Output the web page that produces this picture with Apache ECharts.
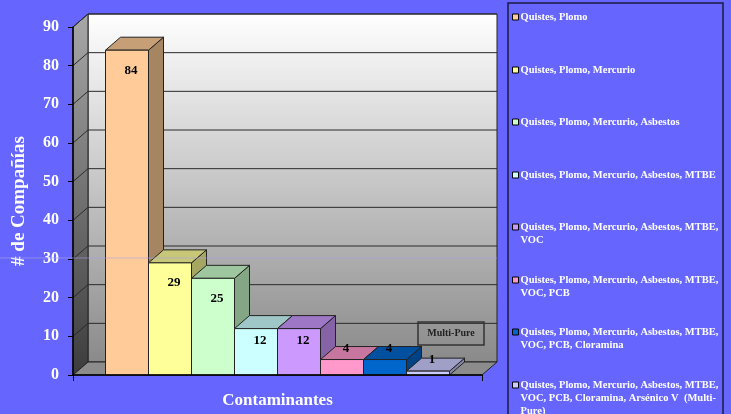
<!DOCTYPE html>
<html>
<head>
<meta charset="utf-8">
<script src="https://cdn.jsdelivr.net/npm/echarts@6/dist/echarts.min.js"></script>
<style>
  html, body { margin: 0; padding: 0; background: #6666FF; }
  #main { width: 731px; height: 414px; }
</style>
</head>
<body>
<div id="main"></div>
<script>
// datos
var seriesNames = [
  'Quistes, Plomo',
  'Quistes, Plomo, Mercurio',
  'Quistes, Plomo, Mercurio, Asbestos',
  'Quistes, Plomo, Mercurio, Asbestos, MTBE',
  'Quistes, Plomo, Mercurio, Asbestos, MTBE, VOC',
  'Quistes, Plomo, Mercurio, Asbestos, MTBE, VOC, PCB',
  'Quistes, Plomo, Mercurio, Asbestos, MTBE, VOC, PCB, Cloramina',
  'Quistes, Plomo, Mercurio, Asbestos, MTBE, VOC, PCB, Cloramina, Arsénico V  (Multi-Pure)'
];
var legendLines = [
  ['Quistes, Plomo'],
  ['Quistes, Plomo, Mercurio'],
  ['Quistes, Plomo, Mercurio, Asbestos'],
  ['Quistes, Plomo, Mercurio, Asbestos, MTBE'],
  ['Quistes, Plomo, Mercurio, Asbestos, MTBE,', 'VOC'],
  ['Quistes, Plomo, Mercurio, Asbestos, MTBE,', 'VOC, PCB'],
  ['Quistes, Plomo, Mercurio, Asbestos, MTBE,', 'VOC, PCB, Cloramina'],
  ['Quistes, Plomo, Mercurio, Asbestos, MTBE,', 'VOC, PCB, Cloramina, Arsénico V  (Multi-', 'Pure)']
];
var values = [84, 29, 25, 12, 12, 4, 4, 1];
var yTicks = [0, 10, 20, 30, 40, 50, 60, 70, 80, 90];
var categories = [''];
var colors = ['#FFCC99', '#FFFF99', '#CCFFCC', '#CCFFFF', '#CC99FF', '#FF99CC', '#0066CC', '#CCCCFF'];

var SERIF = "'Liberation Serif', 'Times New Roman', serif";
var DX = 15, DY = -13;          // profundidad 3D
var BAR_FRACTION = 344 / 409;   // ancho ocupado por las barras
var LINE_H = 13;

function shade(hex, k) {
  var n = parseInt(hex.slice(1), 16);
  var r = Math.round(((n >> 16) & 255) * k);
  var g = Math.round(((n >> 8) & 255) * k);
  var b = Math.round((n & 255) * k);
  return 'rgb(' + r + ',' + g + ',' + b + ')';
}

// paredes, piso y líneas de división
function renderWalls(params, api) {
  var cs = params.coordSys;
  var xl = cs.x, xr = cs.x + cs.width;
  var y0 = api.coord([0, yTicks[0]])[1];
  var yt = api.coord([0, yTicks[yTicks.length - 1]])[1];
  var children = [];
  children.push({
    type: 'polygon',
    shape: { points: [[xl + DX, yt + DY], [xr + DX, yt + DY], [xr + DX, y0 + DY], [xl + DX, y0 + DY]] },
    style: {
      fill: new echarts.graphic.LinearGradient(0, 0, 0, 1, [
        { offset: 0, color: '#FFFFFF' }, { offset: 1, color: '#8A8A8A' }
      ]),
      stroke: '#222', lineWidth: 1
    }
  });
  children.push({
    type: 'polygon',
    shape: { points: [[xl, yt], [xl + DX, yt + DY], [xl + DX, y0 + DY], [xl, y0]] },
    style: {
      fill: new echarts.graphic.LinearGradient(0, 0, 0, 1, [
        { offset: 0, color: '#A8A8A8' }, { offset: 1, color: '#3C3C3C' }
      ]),
      stroke: '#222', lineWidth: 1
    }
  });
  children.push({
    type: 'polygon',
    shape: { points: [[xl, y0], [xr, y0], [xr + DX, y0 + DY], [xl + DX, y0 + DY]] },
    style: { fill: '#8C8C8C', stroke: '#222', lineWidth: 1 }
  });
  for (var k = 1; k < yTicks.length; k++) {
    var y = api.coord([0, yTicks[k]])[1];
    children.push({
      type: 'polyline',
      shape: { points: [[xl, y], [xl + DX, y + DY], [xr + DX, y + DY]] },
      style: { stroke: '#2a2a2a', lineWidth: 1, fill: null }
    });
  }
  return { type: 'group', children: children };
}

function makeBarRenderer(i) {
  return function (params, api) {
    var cs = params.coordSys;
    var n = values.length;
    var base = api.coord([api.value(0), 0]);
    var top = api.coord([api.value(0), api.value(1)]);
    var bw = cs.width * BAR_FRACTION / n;
    var x0 = base[0] - bw * n / 2 + i * bw;
    var x1 = x0 + bw;
    var y0 = base[1], y1 = top[1];
    var c = colors[i];
    var h = y0 - y1;
    var ly = h > 60 ? y1 + 20 : (h > 30 ? y1 + 12 : y1 - 11);
    return {
      type: 'group',
      children: [
        { type: 'polygon', shape: { points: [[x1, y1], [x1 + DX, y1 + DY], [x1 + DX, y0 + DY], [x1, y0]] },
          style: { fill: shade(c, 0.65), stroke: '#222', lineWidth: 1 } },
        { type: 'polygon', shape: { points: [[x0, y1], [x0 + DX, y1 + DY], [x1 + DX, y1 + DY], [x1, y1]] },
          style: { fill: shade(c, 0.78), stroke: '#222', lineWidth: 1 } },
        { type: 'rect', shape: { x: x0, y: y1, width: bw, height: h },
          style: { fill: c, stroke: '#222', lineWidth: 1 } },
        { type: 'text', style: {
            text: String(api.value(1)), x: (x0 + x1) / 2 + 4, y: ly,
            align: 'center', verticalAlign: 'middle',
            font: 'bold 13px ' + SERIF, fill: '#000'
          } }
      ]
    };
  };
}

var legendTops = [17, 70, 122, 175, 227, 280, 332, 385];

var legends = seriesNames.map(function (name, i) {
  var nl = legendLines[i].length;
  return {
    data: [name],
    orient: 'vertical',
    left: 512,
    top: legendTops[i] - (2 * nl - 1) * LINE_H / 2,
    padding: 0,
    icon: 'rect',
    itemWidth: 6,
    itemHeight: 6,
    itemGap: 0,
    selectedMode: false,
    itemStyle: { borderColor: '#000', borderWidth: 1 },
    textStyle: { color: '#FFFFFF', fontFamily: SERIF, fontWeight: 'bold', fontSize: 10.5, lineHeight: LINE_H, padding: [0, 0, 0, -3] },
    formatter: function (nm) {
      var idx = seriesNames.indexOf(nm);
      var lines = legendLines[idx];
      var pre = '';
      for (var p = 1; p < lines.length; p++) pre += ' \n';
      return pre + lines.join('\n');
    }
  };
});

var series = [{
  type: 'custom',
  name: 'paredes',
  silent: true,
  renderItem: renderWalls,
  data: [[0, 0]],
  encode: { x: 0, y: 1 },
  z: 1
}];
seriesNames.forEach(function (name, i) {
  series.push({
    type: 'custom',
    name: name,
    renderItem: makeBarRenderer(i),
    itemStyle: { color: colors[i] },
    data: [[0, values[i]]],
    encode: { x: 0, y: 1 },
    z: 2 + i
  });
});

var chart = echarts.init(document.getElementById('main'));
chart.setOption({
  backgroundColor: '#6666FF',
  animation: false,
  grid: { left: 73, right: 249, top: 27, bottom: 39, outerBoundsMode: 'none', containLabel: false },
  legend: legends,
  xAxis: {
    type: 'category',
    data: categories,
    boundaryGap: true,
    name: 'Contaminantes',
    nameLocation: 'middle',
    nameGap: 17,
    nameTextStyle: { color: '#FFFFFF', fontFamily: SERIF, fontWeight: 'bold', fontSize: 17 },
    axisLine: { lineStyle: { color: '#000', width: 1.5 } },
    axisTick: { show: true, length: 6, lineStyle: { color: '#000' } },
    axisLabel: { show: false },
    z: 20
  },
  yAxis: {
    type: 'value',
    min: 0,
    max: 90,
    interval: 10,
    name: '# de Compañías',
    nameLocation: 'middle',
    nameGap: 44,
    nameRotate: 90,
    nameTextStyle: { color: '#FFFFFF', fontFamily: SERIF, fontWeight: 'bold', fontSize: 19 },
    axisLine: { show: true, lineStyle: { color: '#000', width: 1.5 } },
    axisTick: { show: true, length: 5, lineStyle: { color: '#000' } },
    axisLabel: { color: '#FFFFFF', fontFamily: SERIF, fontWeight: 'bold', fontSize: 16, margin: 14 },
    splitLine: { show: false },
    z: 20
  },
  graphic: [
    { type: 'rect', shape: { x: 508, y: 3, width: 215, height: 420 },
      style: { fill: null, stroke: '#1a1a40', lineWidth: 1.5 }, z: 0 },
    { type: 'line', shape: { x1: 0, y1: 258, x2: 497, y2: 258 },
      style: { stroke: 'rgba(170,160,230,0.6)', lineWidth: 1 }, z: 50 },
    { type: 'rect', shape: { x: 418, y: 322, width: 66, height: 23 },
      style: { fill: null, stroke: '#333', lineWidth: 1.5 }, z: 50 },
    { type: 'text', style: { text: 'Multi-Pure', x: 451, y: 333.5, align: 'center', verticalAlign: 'middle',
      font: 'bold 10px ' + SERIF, fill: '#222' }, z: 50 }
  ],
  series: series
});
</script>
</body>
</html>
